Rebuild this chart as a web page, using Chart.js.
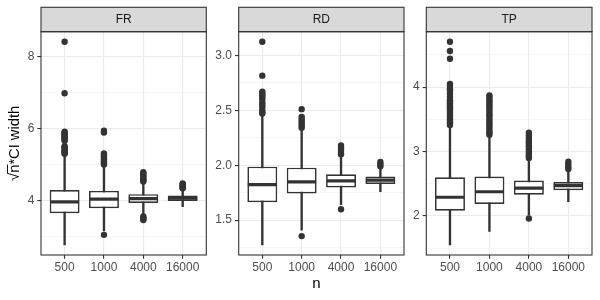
<!DOCTYPE html>
<html><head><meta charset="utf-8">
<script src="https://cdn.jsdelivr.net/npm/chart.js@4"></script>
<style>
html,body{margin:0;padding:0;background:#fff;}
#wrap{position:relative;width:600px;height:300px;overflow:hidden;font-family:"Liberation Sans",Arial,sans-serif;}
.pane{position:absolute;top:0;height:300px;}
#xtitle{position:absolute;left:41px;width:551px;top:274.6px;text-align:center;font-size:15px;line-height:15px;color:#000;}
</style></head>
<body><div id="wrap">
<div class="pane" style="left:0;width:225px"><canvas id="c1"></canvas></div>
<div class="pane" style="left:207px;width:215px"><canvas id="c2"></canvas></div>
<div class="pane" style="left:405px;width:205px"><canvas id="c3"></canvas></div>
<div id="xtitle">n</div>
</div>
<script>
const categories = ['500', '1000', '4000', '16000'];
const panelNames = ['FR', 'RD', 'TP'];
const yTitle = '√n̅*CI width';
const xTitle = 'n';

// FR
const frLow = [2.76, 3.15, 3.60, 3.82];
const frQ1 = [3.64, 3.78, 3.925, 3.98];
const frMed = [3.955, 4.03, 4.045, 4.055];
const frQ3 = [4.285, 4.26, 4.17, 4.13];
const frHigh = [5.25, 4.95, 4.50, 4.30];
const frOut = [
  [8.40, 6.97, 5.90, 5.88, 5.85, 5.82, 5.78, 5.75, 5.72, 5.68, 5.65, 5.50, 5.47, 5.44, 5.40, 5.37, 5.34, 5.31, 5.29],
  [5.93, 5.88, 5.30, 5.26, 5.22, 5.18, 5.14, 5.10, 5.06, 5.02, 4.99, 3.04],
  [4.78, 4.74, 4.70, 4.66, 4.62, 4.58, 4.55, 4.52, 3.55, 3.52, 3.48, 3.45],
  [4.47, 4.44, 4.41, 4.38, 4.35, 4.33]
];
const frTicks = [4, 6, 8];
const frMinor = [3, 5, 7];

// RD
const rdLow = [1.275, 1.41, 1.64, 1.76];
const rdQ1 = [1.664, 1.742, 1.797, 1.83];
const rdMed = [1.824, 1.848, 1.857, 1.864];
const rdQ3 = [1.987, 1.978, 1.918, 1.897];
const rdHigh = [2.46, 2.32, 2.09, 1.97];
const rdOut = [
  [3.124, 2.815, 2.67, 2.65, 2.64, 2.62, 2.60, 2.57, 2.55, 2.53, 2.50, 2.48, 2.47],
  [2.51, 2.44, 2.42, 2.40, 2.38, 2.36, 2.34, 1.355],
  [2.18, 2.16, 2.14, 2.12, 2.10, 1.60],
  [2.03, 2.01, 1.99]
];
const rdTicks = [1.5, 2.0, 2.5, 3.0];
const rdMinor = [1.25, 1.75, 2.25, 2.75];

// TP
const tpLow = [1.55, 1.76, 2.01, 2.22];
const tpQ1 = [2.08, 2.185, 2.33, 2.40];
const tpMed = [2.29, 2.375, 2.43, 2.47];
const tpQ3 = [2.60, 2.61, 2.55, 2.525];
const tpHigh = [3.36, 3.23, 2.87, 2.69];
const tpOut = [
  [4.705, 4.56, 4.44, 4.05, 4.02, 3.98, 3.95, 3.90, 3.85, 3.80, 3.78, 3.75, 3.72, 3.70, 3.67, 3.64, 3.60, 3.57, 3.54, 3.50, 3.47, 3.44, 3.41],
  [3.87, 3.84, 3.80, 3.77, 3.73, 3.70, 3.66, 3.62, 3.58, 3.55, 3.51, 3.47, 3.43, 3.40, 3.36, 3.32, 3.29, 3.26],
  [3.29, 3.25, 3.20, 3.16, 3.12, 3.08, 3.04, 3.00, 2.96, 2.93, 2.90, 1.96],
  [2.84, 2.80, 2.76, 2.73]
];
const tpTicks = [2, 3, 4];
const tpMinor = [1.5, 2.5, 3.5, 4.5];

const FONT = 'Liberation Sans, Arial, sans-serif';
const INK = '#333333';

const panelPlugin = {
  id: 'panelDeco',
  beforeDraw(chart) {
    const {ctx, chartArea: a} = chart;
    const tb = chart.titleBlock;
    ctx.save();
    ctx.fillStyle = '#D9D9D9';
    ctx.fillRect(a.left, tb.top, a.right - a.left, tb.bottom - tb.top);
    ctx.restore();
  },
  afterDatasetsDraw(chart) {
    const {ctx, chartArea: a} = chart;
    const tb = chart.titleBlock;
    ctx.save();
    ctx.strokeStyle = INK;
    ctx.lineWidth = 1.1;
    ctx.strokeRect(a.left, a.top, a.right - a.left, a.bottom - a.top);
    ctx.strokeRect(a.left, tb.top, a.right - a.left, tb.bottom - tb.top);
    ctx.restore();
  }
};

function makePanel(id, name, low, q1, med, q3, high, out, yMin, yMax, major, minor, fmt, yW, padR, showTitle) {
  const xs = categories.map((c, i) => i + 1);
  const allTicks = major.concat(minor).filter(v => v >= yMin && v <= yMax).sort((a, b) => a - b);
  const isMajor = v => major.some(m => Math.abs(m - v) < 1e-9);
  return new Chart(document.getElementById(id), {
    type: 'bar',
    data: {
      datasets: [
        {
          type: 'bar', label: 'whiskers',
          data: xs.map((x, i) => ({x: x, y: [low[i], high[i]]})),
          backgroundColor: INK, borderWidth: 0, barThickness: 1.7, grouped: false, order: 3
        },
        {
          type: 'bar', label: 'box',
          data: xs.map((x, i) => ({x: x, y: [q1[i], q3[i]]})),
          backgroundColor: '#FFFFFF', borderColor: INK, borderWidth: 1.7, borderSkipped: false,
          grouped: false, barPercentage: 0.76, categoryPercentage: 1, order: 2
        },
        {
          type: 'scatter', label: 'median',
          data: xs.map((x, i) => ({x: x, y: med[i]})),
          pointStyle: 'line', pointRadius: 14.5, pointHoverRadius: 14.5,
          pointBorderColor: INK, pointBorderWidth: 3.2, order: 1
        },
        {
          type: 'scatter', label: 'outliers',
          data: out.flatMap((arr, i) => arr.map(v => ({x: i + 1, y: v}))),
          pointRadius: 3.2, pointBackgroundColor: INK, pointBorderWidth: 0, pointHoverRadius: 3.2,
          order: 0
        }
      ]
    },
    options: {
      responsive: true,
      maintainAspectRatio: false,
      animation: false,
      events: [],
      layout: {padding: {top: 7.3, right: padR, left: 0, bottom: 0}},
      plugins: {
        legend: {display: false},
        tooltip: {enabled: false},
        title: {
          display: true, text: name, fullSize: false, color: '#1A1A1A',
          font: {family: FONT, size: 12, weight: 'normal'},
          padding: {top: 5, bottom: 5}
        }
      },
      scales: {
        x: {
          type: 'linear', min: 0.4, max: 4.6, offset: false,
          afterBuildTicks: s => { s.ticks = xs.map(v => ({value: v})); },
          afterFit: s => { s.height = 45; },
          grid: {offset: false, color: '#EBEBEB', lineWidth: 1.1, tickColor: INK, tickLength: 3.7},
          border: {display: false},
          ticks: {
            autoSkip: false, maxRotation: 0, padding: 1.5, color: '#4D4D4D',
            font: {family: FONT, size: 12},
            callback: v => categories[Math.round(v) - 1]
          }
        },
        y: {
          type: 'linear', min: yMin, max: yMax, beginAtZero: false,
          afterBuildTicks: s => { s.ticks = allTicks.map(v => ({value: v})); },
          afterFit: s => { s.width = yW; },
          grid: {
            color: c => (c.tick && isMajor(c.tick.value)) ? '#EBEBEB' : '#F2F2F2',
            lineWidth: c => (c.tick && isMajor(c.tick.value)) ? 1.1 : 0.6,
            tickColor: c => (c.tick && isMajor(c.tick.value)) ? INK : 'rgba(0,0,0,0)',
            tickLength: 3.7
          },
          border: {display: false},
          ticks: {
            autoSkip: false, padding: 3, color: '#4D4D4D',
            font: {family: FONT, size: 12},
            callback: v => isMajor(v) ? fmt(v) : ''
          },
          title: {
            display: showTitle, text: yTitle, color: '#000000',
            font: {family: FONT, size: 14.7},
            padding: {top: 6.2, bottom: 0}
          }
        }
      }
    },
    plugins: [panelPlugin]
  });
}

makePanel('c1', panelNames[0], frLow, frQ1, frMed, frQ3, frHigh, frOut, 2.48, 8.68, frTicks, frMinor, v => String(v), 41, 18.7, true);
makePanel('c2', panelNames[1], rdLow, rdQ1, rdMed, rdQ3, rdHigh, rdOut, 1.183, 3.215, rdTicks, rdMinor, v => v.toFixed(1), 31.7, 18, false);
makePanel('c3', panelNames[2], tpLow, tpQ1, tpMed, tpQ3, tpHigh, tpOut, 1.393, 4.86, tpTicks, tpMinor, v => String(v), 21.3, 18, false);
document.getElementById('xtitle').textContent = xTitle;
</script>
</body></html>
